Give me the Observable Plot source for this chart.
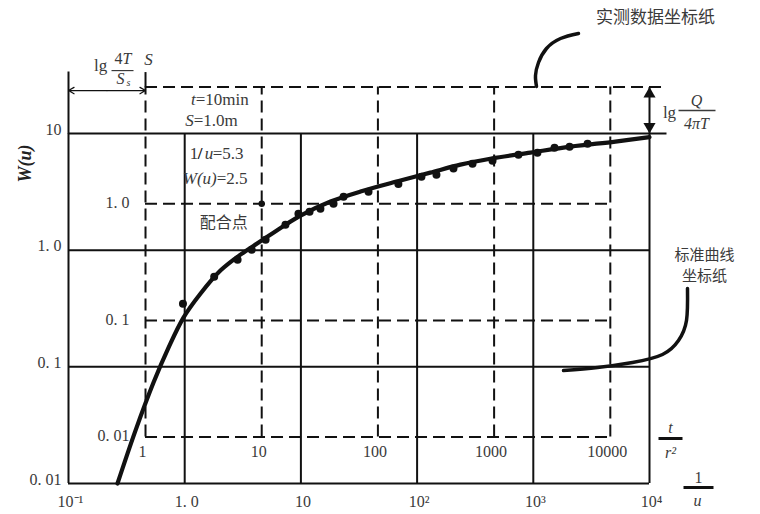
<!DOCTYPE html>
<html>
<head>
<meta charset="utf-8">
<script src="https://cdn.jsdelivr.net/npm/d3@7"></script>
<script src="https://cdn.jsdelivr.net/npm/@observablehq/plot@0.6"></script>
<style>
  html, body { margin: 0; padding: 0; background: #fff; }
</style>
</head>
<body>
<div id="chart"></div>
<script>
// ---- Standard (type-curve) paper: W(u) vs 1/u ----
const invUTicks = [0.1, 1, 10, 100, 1000, 10000];
const invULabels = ["10⁻¹", "1. 0", "10", "10²", "10³", "10⁴"];
const wTicks = [0.01, 0.1, 1, 10];
const wLabels = ["0. 01", "0. 1", "1. 0", "10"];

// ---- Field-data paper: s vs t/r² ----
const trTicks = [1, 10, 100, 1000, 10000];
const trLabels = ["1", "10", "100", "1000", "10000"];
const sTicks = [0.01, 0.1, 1, 10];
const sLabels = ["0. 01", "0. 1", "1. 0", ""];

// ---- Theis type curve ----
const curveInvU = [0.264, 0.377, 0.539, 0.726, 0.976, 1.37, 2.03, 3.02, 4.49, 7.22, 9.93, 18.0, 32.6, 72, 130, 236, 437, 946, 2090, 5090, 10000];
const curveW    = [0.01, 0.0284, 0.0733, 0.146, 0.264, 0.425, 0.668, 0.916, 1.19, 1.63, 1.98, 2.61, 3.18, 3.95, 4.62, 5.41, 6.10, 6.86, 7.72, 8.53, 9.3];

// ---- Observed drawdown data (on the data paper) ----
const obsTr2 = [2.1, 3.9, 6.2, 8.2, 10.8, 16, 20.7, 25.8, 32, 41.5, 50.6, 83, 150, 237, 319, 447, 652, 969, 1620, 2360, 3310, 4460, 6370];
const obsS   = [0.139, 0.237, 0.331, 0.403, 0.492, 0.661, 0.821, 0.854, 0.906, 1.0, 1.15, 1.27, 1.48, 1.70, 1.77, 2.0, 2.20, 2.34, 2.63, 2.74, 3.02, 3.08, 3.27];

// ---- Match point (data paper -> type-curve paper), as drawn ----
const matchTr2 = 10, matchS = 1.0;
const matchInvU = 4.6, matchW = 2.5;
const K = matchInvU / matchTr2;   // 1/u per t/r²
const M = matchW / matchS;        // W(u) per s

// helpers: offset a scale value by pixels (log scales)
const PXD = 581 / 5, PYD = 350 / 3;
const ox = (v, px) => v * 10 ** (px / PXD);
const oy = (v, px) => v * 10 ** (-px / PYD);

const serif = "'Liberation Serif', 'Times New Roman', serif";
const cjk = "'Noto Sans CJK SC', sans-serif";
const ink = "#111";
const txt = "#3a3a3a";

function label(text, x, y, o = {}) {
  return Plot.text([text], {x: () => x, y: () => y, text: d => d, fill: txt, fontFamily: serif, fontSize: 16, ...o});
}
function seg(x1, y1, x2, y2, o = {}) {
  return Plot.link([0], {x1: () => x1, y1: () => y1, x2: () => x2, y2: () => y2, stroke: ink, strokeWidth: 2, ...o});
}

const curve = curveInvU.map((x, i) => ({x, y: curveW[i]}));
const obs = obsTr2.map((t, i) => ({x: t * K, y: obsS[i] * M}));

const MX = matchTr2 * K, MY = matchS * M;
const TLx = K, TLy = 10 * M;          // top-left corner of data paper

const arrowTop = [[-71, -100], [-89, -95], [-103, -85], [-111, -71], [-114, -58], [-113, -47]]
  .map(([a, b]) => ({x: ox(1e4, a), y: oy(10, b)}));
const arrowStd = [[38, 155], [37, 187], [29, 207], [13, 221], [-17, 229], [-52, 234], [-86, 237]]
  .map(([a, b]) => ({x: ox(1e4, a), y: oy(10, b)}));

const chart = Plot.plot({
  width: 760,
  height: 514,
  margin: 0,
  x: {type: "log", domain: [0.1, 1e4], range: [68, 649], axis: null},
  y: {type: "log", domain: [0.01, 10], range: [483, 133], axis: null},
  style: {fontFamily: serif, fontSize: "15px", background: "white", color: txt, overflow: "visible"},
  marks: [
    // solid grid (type curve paper)
    Plot.ruleX(invUTicks, {x: d => d, y1: () => 0.01, y2: () => 10, stroke: ink, strokeWidth: 2}),
    Plot.ruleY(wTicks, {y: d => d, x1: () => 0.1, x2: () => 1e4, stroke: ink, strokeWidth: 2}),
    seg(1e4, 10, ox(1e4, 17), 10),
    // dashed grid (data paper)
    Plot.ruleX(trTicks, {x: d => d * K, y1: () => 0.01 * M, y2: () => 10 * M, stroke: ink, strokeWidth: 2, strokeDasharray: "12,6"}),
    Plot.ruleY(sTicks, {y: d => d * M, x1: () => K, x2: d => d === 10 ? ox(1e4, 17) : 1e4 * K, stroke: ink, strokeWidth: 2, strokeDasharray: "12,6"}),

    // brackets top-left
    seg(0.1, 10, 0.1, oy(10, -62)),
    seg(K, TLy, K, oy(TLy, -15)),
    Plot.arrow([0.1, K], {x1: () => Math.sqrt(0.1 * K), y1: () => oy(TLy, 3.5), x2: d => d, y2: () => oy(TLy, 3.5), stroke: ink, strokeWidth: 1.2, headLength: 8}),
    // bracket right: lg Q/4πT
    seg(1e4, 10, 1e4, TLy),
    Plot.dot([0], {x: () => 1e4, y: () => oy(TLy, 7), symbol: "triangle", r: 4.5, fill: ink, stroke: "none"}),
    Plot.dot([0], {x: () => 1e4, y: () => oy(10, -7), symbol: "triangle", r: 4.5, fill: ink, stroke: "none", rotate: 180}),

    // type curve and data
    Plot.line(curve, {x: "x", y: "y", curve: "catmull-rom", stroke: ink, strokeWidth: 4.2}),
    Plot.dot(obs, {x: "x", y: "y", r: 4, fill: ink, stroke: "none"}),
    Plot.dot([0], {x: () => MX, y: () => MY, r: 3.2, fill: ink, stroke: "none"}),

    // tick labels
    Plot.text(wTicks, {x: () => 0.1, y: d => d, text: (d, i) => wLabels[i], dx: -7, dy: -4, textAnchor: "end", fill: txt, fontSize: 16}),
    Plot.text(invUTicks, {x: d => d, y: () => 0.01, text: (d, i) => invULabels[i], dx: 2, dy: 18, fill: txt, fontSize: 16}),
    Plot.text(sTicks, {x: () => K, y: d => d * M, text: (d, i) => sLabels[i], dx: -16, dy: -1, textAnchor: "end", fill: txt, fontSize: 16}),
    Plot.text(trTicks, {x: d => d * K, y: () => 0.01 * M, text: (d, i) => trLabels[i], dx: -3, dy: 15, fill: txt, fontSize: 16}),

    // axis title W(u)
    label("W(u)", 0.1, 10, {dx: -43, dy: 30, rotate: -90, fontWeight: "bold", fontStyle: "italic", fontSize: 18, fill: "#222"}),

    // lg 4T/Ss  and S
    label("lg", TLx, TLy, {dx: -45, dy: -22, fontSize: 17}),
    label("4", TLx, TLy, {dx: -23, dy: -28, textAnchor: "end"}),
    label("T", TLx, TLy, {dx: -23, dy: -28, textAnchor: "start", fontStyle: "italic"}),
    seg(ox(TLx, -34), oy(TLy, -16.5), ox(TLx, -12), oy(TLy, -16.5), {strokeWidth: 1.2, stroke: txt}),
    label("S", TLx, TLy, {dx: -25, dy: -8, fontStyle: "italic"}),
    label("s", TLx, TLy, {dx: -17, dy: -4, fontStyle: "italic", fontSize: 10}),
    label("S", TLx, TLy, {dx: 3, dy: -28, fontStyle: "italic", fontSize: 17}),

    // match point text box
    label("t", MX, MY, {dx: -66, dy: -104, textAnchor: "end", fontStyle: "italic", fontSize: 17}),
    label("=10min", MX, MY, {dx: -66, dy: -104, textAnchor: "start", fontSize: 17}),
    label("S", MX, MY, {dx: -68, dy: -83, textAnchor: "end", fontStyle: "italic", fontSize: 17}),
    label("=1.0m", MX, MY, {dx: -68, dy: -83, textAnchor: "start", fontSize: 17}),
    label("1", MX, MY, {dx: -72, dy: -50, textAnchor: "start", fontSize: 17}),
    label("/", MX, MY, {dx: -64, dy: -50, textAnchor: "start", fontWeight: "bold", fill: "#111", fontSize: 17}),
    label("u", MX, MY, {dx: -57, dy: -50, textAnchor: "start", fontStyle: "italic", fontSize: 17}),
    label("=5.3", MX, MY, {dx: -49, dy: -50, textAnchor: "start", fontSize: 17}),
    label("W(u)", MX, MY, {dx: -45, dy: -25, textAnchor: "end", fontStyle: "italic", fontSize: 17}),
    label("=2.5", MX, MY, {dx: -45, dy: -25, textAnchor: "start", fontSize: 17}),
    label("配合点", MX, MY, {dx: -38, dy: 19, fontFamily: cjk, fontSize: 16}),

    // lg Q/4πT
    label("lg", 1e4, 10, {dx: 20, dy: -21, fontSize: 17}),
    label("Q", 1e4, 10, {dx: 47, dy: -33, fontStyle: "italic"}),
    seg(ox(1e4, 29), oy(10, -23), ox(1e4, 66), oy(10, -23), {strokeWidth: 1.5, stroke: txt}),
    label("4πT", 1e4, 10, {dx: 47, dy: -10, fontStyle: "italic"}),

    // paper annotations
    label("实测数据坐标纸", 1e4, 10, {dx: 6, dy: -116, fontFamily: cjk, fontSize: 17}),
    Plot.line(arrowTop, {x: "x", y: "y", curve: "natural", stroke: ink, strokeWidth: 3.5}),
    label("标准曲线\n坐标纸", 1e4, 1, {dx: 55, dy: 14, fontFamily: cjk, fontSize: 15, lineHeight: 1.4}),
    Plot.line(arrowStd, {x: "x", y: "y", curve: "natural", stroke: ink, strokeWidth: 3.5}),

    // t/r² and 1/u fraction labels
    label("t", 1e4, 0.01, {dx: 21, dy: -56, fontStyle: "italic"}),
    seg(ox(1e4, 9), oy(0.01, -45), ox(1e4, 33), oy(0.01, -45), {strokeWidth: 3}),
    label("r²", 1e4, 0.01, {dx: 21, dy: -31, fontStyle: "italic"}),
    label("1", 1e4, 0.01, {dx: 49, dy: -6}),
    seg(ox(1e4, 34), oy(0.01, 4), ox(1e4, 64), oy(0.01, 4), {strokeWidth: 3}),
    label("u", 1e4, 0.01, {dx: 48, dy: 17, fontStyle: "italic"})
  ]
});
document.getElementById("chart").appendChild(chart);
</script>
</body>
</html>
